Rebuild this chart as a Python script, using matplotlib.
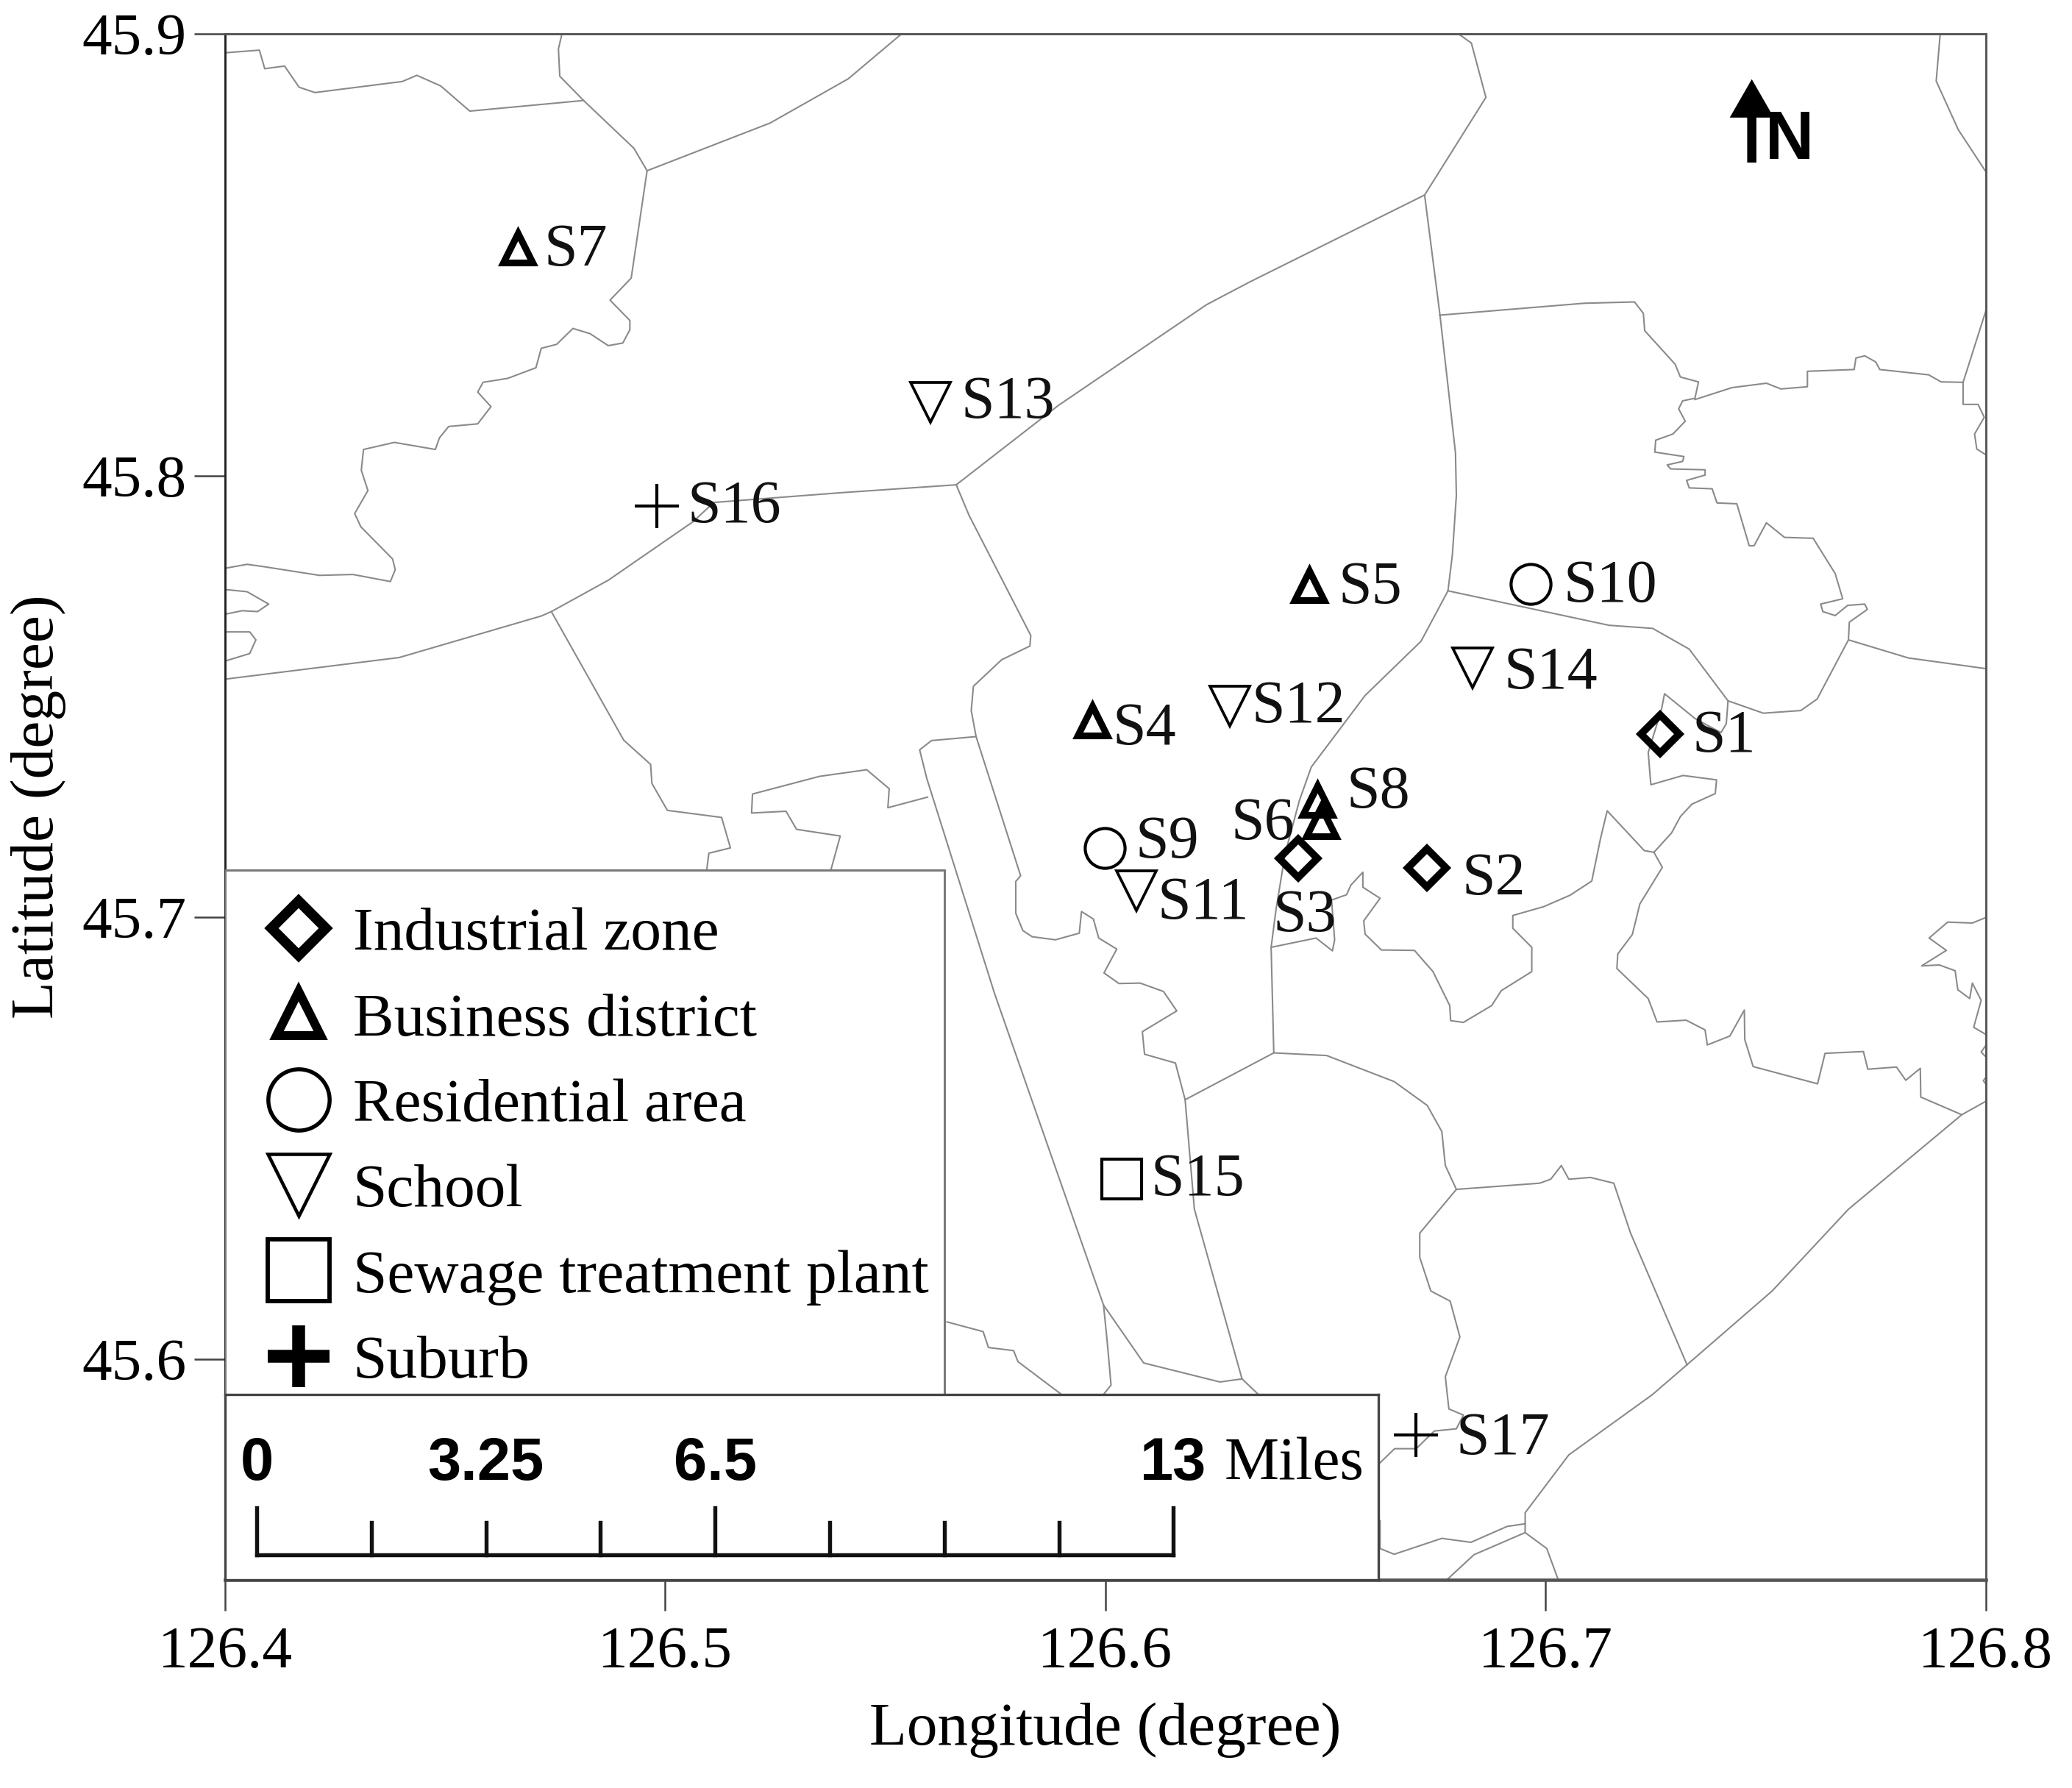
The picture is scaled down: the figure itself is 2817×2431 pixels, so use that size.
from matplotlib import pyplot as plt
from matplotlib.lines import Line2D
from matplotlib.patches import Rectangle

plt.rcParams['font.family'] = ['Liberation Serif', 'DejaVu Serif']

# sampling sites
site_names = ['S1', 'S2', 'S3', 'S4', 'S5', 'S6', 'S7', 'S8', 'S9', 'S10', 'S11', 'S12', 'S13', 'S14', 'S15', 'S16', 'S17']
site_lon = [126.726, 126.673, 126.6439, 126.5971, 126.6463, 126.649, 126.4666, 126.6481, 126.5998,
            126.6967, 126.607, 126.6283, 126.5602, 126.6835, 126.6037, 126.4981, 126.6706]
site_lat = [45.7415, 45.7112, 45.7133, 45.7445, 45.7751, 45.7217, 45.8516, 45.7265, 45.7157,
            45.7754, 45.7061, 45.7478, 45.8165, 45.7565, 45.6407, 45.7931, 45.5828]
site_type = ['Industrial zone', 'Industrial zone', 'Industrial zone', 'Business district', 'Business district',
             'Business district', 'Business district', 'Business district', 'Residential area', 'Residential area',
             'School', 'School', 'School', 'School', 'Sewage treatment plant', 'Suburb', 'Suburb']

# district boundaries, (lon, lat)
line_a = [(126.4, 45.8957), (126.4078, 45.8963), (126.409, 45.8921), (126.4135, 45.8927), (126.4168, 45.8879), (126.4204, 45.8867), (126.4402, 45.8892), (126.4435, 45.8906), (126.4489, 45.8882), (126.4555, 45.8825), (126.4813, 45.8849)]
line_b = [(126.4764, 45.9), (126.4756, 45.8966), (126.4759, 45.8904), (126.4813, 45.8849), (126.4927, 45.8741), (126.4957, 45.869)]
line_c = [(126.4957, 45.869), (126.5236, 45.8798), (126.5413, 45.8898), (126.5533, 45.8999)]
line_d = [(126.4957, 45.869), (126.4921, 45.8447), (126.4873, 45.8397), (126.4918, 45.8351), (126.4918, 45.833), (126.4902, 45.83), (126.4869, 45.8294), (126.4828, 45.8321), (126.4789, 45.8333), (126.4752, 45.8297), (126.4717, 45.8288), (126.4705, 45.8244), (126.4641, 45.822), (126.4585, 45.8211), (126.4573, 45.8189), (126.4603, 45.8156), (126.4573, 45.8117), (126.4507, 45.8111), (126.4486, 45.8085), (126.4477, 45.8059), (126.4384, 45.8075), (126.4314, 45.8059), (126.4309, 45.8012), (126.4324, 45.7966), (126.4294, 45.7914), (126.4308, 45.7884), (126.438, 45.7811), (126.4386, 45.7787), (126.4375, 45.776), (126.429, 45.7776), (126.4214, 45.7774), (126.4086, 45.7794), (126.405, 45.7799), (126.4, 45.779)]
line_e = [(126.4, 45.7742), (126.405, 45.7737), (126.4099, 45.7709), (126.4074, 45.7692), (126.4039, 45.7694), (126.4, 45.7686)]
line_f = [(126.4, 45.7646), (126.4056, 45.7646), (126.407, 45.7628), (126.4056, 45.7597), (126.4, 45.758)]
line_g = [(126.4, 45.7539), (126.4395, 45.7588), (126.4717, 45.7682), (126.474, 45.7692), (126.4869, 45.7763), (126.5062, 45.7896), (126.5108, 45.7939), (126.5395, 45.7961), (126.5658, 45.7979), (126.589, 45.8159), (126.6226, 45.8387), (126.6323, 45.8438), (126.672, 45.8635), (126.6859, 45.8856), (126.6826, 45.8979), (126.6798, 45.8999)]
line_h = [(126.672, 45.8635), (126.6755, 45.8362), (126.6775, 45.8185), (126.679, 45.8051), (126.6792, 45.7955), (126.6783, 45.7821), (126.6773, 45.7739), (126.6712, 45.7625), (126.6585, 45.7502), (126.6463, 45.734), (126.6436, 45.7264), (126.6404, 45.7145), (126.6383, 45.7017), (126.6372, 45.6932), (126.6378, 45.6693)]
line_i = [(126.6754, 45.8363), (126.7082, 45.839), (126.7196, 45.8393), (126.7216, 45.8367), (126.7219, 45.8328), (126.7288, 45.8252), (126.73, 45.8223), (126.7341, 45.8212), (126.7333, 45.8175), (126.7305, 45.8169), (126.7296, 45.8151), (126.7311, 45.8123), (126.7283, 45.8094), (126.7244, 45.808), (126.7242, 45.8053), (126.7308, 45.8043), (126.7305, 45.8032), (126.727, 45.8024), (126.7278, 45.8015), (126.7356, 45.8013), (126.7356, 45.8001), (126.7314, 45.7989), (126.732, 45.7972), (126.7372, 45.797), (126.7383, 45.7938), (126.7428, 45.7936), (126.7456, 45.7841), (126.7467, 45.7841), (126.7495, 45.7893), (126.7536, 45.786), (126.7601, 45.7858), (126.7651, 45.7778), (126.7668, 45.7721), (126.7618, 45.7709), (126.7623, 45.7692), (126.7651, 45.7683), (126.7679, 45.7706), (126.7718, 45.7709), (126.7724, 45.7697), (126.7683, 45.7668), (126.7681, 45.7628)]
line_j = [(126.7333, 45.8172), (126.7417, 45.8199), (126.7495, 45.8209), (126.7528, 45.8196), (126.7588, 45.8201), (126.7588, 45.8236), (126.7694, 45.824), (126.7698, 45.8266), (126.7718, 45.8271), (126.7743, 45.8257), (126.7752, 45.824), (126.7863, 45.8228), (126.7891, 45.8212), (126.7941, 45.8211), (126.7999, 45.8393)]
line_k = [(126.7941, 45.8211), (126.7941, 45.8161), (126.7975, 45.8161), (126.7989, 45.8132), (126.7967, 45.8094), (126.7972, 45.806), (126.7999, 45.8043)]
line_l = [(126.7889, 45.8999), (126.788, 45.8893), (126.793, 45.8783), (126.7999, 45.8678)]
line_o = [(126.6773, 45.7739), (126.7138, 45.7661), (126.7237, 45.7654), (126.732, 45.7607), (126.7408, 45.749), (126.7488, 45.7462), (126.7573, 45.7468), (126.761, 45.7494), (126.7681, 45.7628), (126.7817, 45.7587), (126.7999, 45.7562)]
line_inlet = [(126.7408, 45.749), (126.7404, 45.7438), (126.7392, 45.7418), (126.7333, 45.745), (126.7264, 45.7506), (126.7257, 45.747), (126.7227, 45.7373), (126.7233, 45.73), (126.7306, 45.7321), (126.7382, 45.7311), (126.7379, 45.728), (126.7326, 45.7256), (126.73, 45.7228), (126.728, 45.7191), (126.724, 45.7147), (126.7218, 45.7151), (126.7134, 45.7241), (126.7119, 45.7179), (126.7099, 45.7082), (126.705, 45.705), (126.699, 45.7024), (126.692, 45.7004), (126.692, 45.6975), (126.6963, 45.6932), (126.6963, 45.6877), (126.6894, 45.6834), (126.6872, 45.68), (126.6808, 45.6762), (126.6779, 45.6766), (126.6777, 45.68), (126.6739, 45.6877), (126.6697, 45.6925), (126.6622, 45.6926), (126.6585, 45.6962), (126.6582, 45.6992), (126.6619, 45.7043), (126.658, 45.7068), (126.658, 45.7102), (126.6553, 45.7073), (126.6543, 45.7051), (126.6509, 45.7039), (126.6516, 45.6949), (126.6511, 45.6924), (126.6474, 45.6953), (126.6372, 45.6932)]
line_se = [(126.724, 45.7147), (126.7259, 45.7113), (126.7208, 45.703), (126.7191, 45.6961), (126.7158, 45.6917), (126.7156, 45.6884), (126.7227, 45.6816), (126.7247, 45.6763), (126.7313, 45.6767), (126.7356, 45.6745), (126.7361, 45.6711), (126.7412, 45.6731), (126.7445, 45.679), (126.7446, 45.6723), (126.7465, 45.6662), (126.7611, 45.6623), (126.7628, 45.6692), (126.7715, 45.6696), (126.7725, 45.6656), (126.779, 45.6661), (126.7811, 45.6631), (126.7844, 45.6658), (126.7845, 45.6593), (126.7938, 45.6553)]
line_east = [(126.7999, 45.7002), (126.7962, 45.6987), (126.7906, 45.6989), (126.7864, 45.6953), (126.7903, 45.6925), (126.7847, 45.689), (126.7887, 45.6892), (126.7923, 45.6879), (126.7929, 45.6836), (126.7956, 45.6816), (126.7962, 45.6851), (126.7982, 45.6812), (126.7965, 45.6751), (126.7999, 45.6731)]
line_east2 = [(126.7999, 45.6719), (126.7982, 45.6695), (126.7999, 45.6677)]
line_east3 = [(126.7999, 45.6647), (126.7987, 45.663), (126.7999, 45.6614)]
line_p = [(126.5658, 45.7979), (126.5687, 45.791), (126.5827, 45.7638), (126.5825, 45.7614), (126.5761, 45.7583), (126.5697, 45.7523), (126.5692, 45.7468), (126.5703, 45.7409), (126.5804, 45.7094), (126.5793, 45.7081), (126.5793, 45.7009), (126.5809, 45.697), (126.583, 45.6956), (126.5883, 45.6949), (126.5937, 45.6964), (126.5942, 45.7013), (126.5969, 45.6996), (126.5981, 45.6953), (126.6022, 45.6928), (126.5993, 45.6874), (126.6027, 45.685), (126.6075, 45.6851), (126.6128, 45.6832), (126.6158, 45.6788), (126.608, 45.6741), (126.6085, 45.669), (126.6155, 45.667), (126.6177, 45.6587), (126.6198, 45.6339), (126.6306, 45.5955), (126.6347, 45.5916)]
line_q = [(126.6177, 45.6587), (126.6378, 45.6693), (126.6498, 45.6687), (126.6651, 45.6628), (126.6726, 45.6574), (126.6759, 45.6515), (126.6767, 45.6438), (126.6792, 45.6384)]
line_r = [(126.6792, 45.6384), (126.6981, 45.6398), (126.7006, 45.6407), (126.703, 45.6438), (126.7047, 45.6407), (126.7096, 45.6411), (126.7149, 45.6398), (126.7187, 45.6285), (126.7315, 45.5987)]
line_s = [(126.6792, 45.6384), (126.6709, 45.6285), (126.6709, 45.623), (126.6734, 45.6154), (126.6778, 45.6131), (126.68, 45.605), (126.6767, 45.596), (126.6775, 45.5887), (126.6808, 45.5873), (126.6792, 45.5842), (126.6742, 45.5837), (126.6701, 45.5797), (126.6652, 45.5797), (126.6619, 45.5765)]
line_t = [(126.7999, 45.6587), (126.7938, 45.6553), (126.7681, 45.6339), (126.7508, 45.6154), (126.7315, 45.5987), (126.7236, 45.5919), (126.7047, 45.5783), (126.6948, 45.5652), (126.6948, 45.5607), (126.6832, 45.5557), (126.6767, 45.5497)]
line_t2 = [(126.6948, 45.5607), (126.6997, 45.5571), (126.7026, 45.5492)]
line_u = [(126.6948, 45.5627), (126.6907, 45.5621), (126.6825, 45.5585), (126.6759, 45.5594), (126.6651, 45.5558), (126.6619, 45.5571), (126.6619, 45.5634)]
line_x = [(126.5703, 45.7409), (126.5602, 45.74), (126.5575, 45.7379), (126.5591, 45.7315), (126.5745, 45.6827), (126.5992, 45.6122), (126.6083, 45.5991), (126.6256, 45.5948), (126.6306, 45.5955)]
line_x2 = [(126.5992, 45.6122), (126.6001, 45.6032), (126.6009, 45.5941), (126.5989, 45.5916)]
line_y = [(126.474, 45.7692), (126.4904, 45.7401), (126.4965, 45.7346), (126.4968, 45.7303), (126.5003, 45.7242), (126.5126, 45.7226), (126.5146, 45.7157), (126.5097, 45.7145), (126.5091, 45.7097)]
line_z = [(126.5593, 45.7272), (126.5503, 45.7248), (126.5506, 45.7291), (126.5455, 45.7334), (126.5348, 45.7319), (126.5196, 45.7279), (126.5194, 45.7236), (126.5272, 45.724), (126.5296, 45.7199), (126.5395, 45.7184), (126.5371, 45.7097)]
line_w = [(126.5637, 45.6084), (126.5719, 45.6062), (126.5731, 45.6026), (126.5788, 45.6019), (126.5798, 45.5994), (126.5899, 45.5918)]

boundaries = [line_a, line_b, line_c, line_d, line_e, line_f, line_g, line_h, line_i, line_j, line_k, line_l,
              line_o, line_inlet, line_se, line_east, line_east2, line_east3, line_p, line_q, line_r, line_s,
              line_t, line_t2, line_u, line_x, line_x2, line_y, line_z, line_w]

# scale bar
scale_ticks = [0, 1.625, 3.25, 4.875, 6.5, 8.125, 9.75, 11.375, 13]
scale_long = [0, 6.5, 13]
scale_labels = [0, 3.25, 6.5, 13]

lon_ticks = [126.4, 126.5, 126.6, 126.7, 126.8]
lat_ticks = [45.6, 45.7, 45.8, 45.9]

# site type -> marker, size, edge width on the map, size in legend, edge in legend
styles = {
    'Industrial zone': ('D', 8.8, 2.4, 12.5, 3.3),
    'Business district': ('^', 9.5, 2.2, 14.5, 2.9),
    'Residential area': ('o', 13.0, 1.0, 20.0, 1.3),
    'School': ('v', 13.0, 0.9, 20.0, 1.1),
    'Sewage treatment plant': ('s', 13.0, 1.0, 20.0, 1.4),
    'Suburb': ('+', 14.5, 1.0, 20.0, 4.2),
}

# label offset from the marker, points
label_offset = [(10.5, -1), (11.5, -4), (-8.5, -19), (6.5, -3), (9.5, -1), (-29.5, -1), (8.5, -1), (9.5, 2.5), (10, 1.5),
                (10.5, -1), (7, -4.5), (7, -0.5), (10, -0.3), (10, -2), (9.5, -0.5), (10, -0.5), (13, -1.5)]

fig = plt.figure(figsize=(2817 / 300, 2431 / 300), dpi=300)
ax = fig.add_axes([0.1086, 0.1164, 0.8497, 0.8647])

for line in boundaries:
    # the boundaries were read a touch short in longitude, 0.2% stretch from the left edge
    xs = [126.4 + (p[0] - 126.4) * 1.002 for p in line]
    ys = [p[1] for p in line]
    ax.plot(xs, ys, color='#8a8a8a', lw=0.5, zorder=1)

for i, name in enumerate(site_names):
    m, ms, mew, _, _ = styles[site_type[i]]
    ax.plot(site_lon[i], site_lat[i], m, ms=ms, mew=mew, mfc='none', mec='black', zorder=3)
    ax.annotate(name, (site_lon[i], site_lat[i]), xytext=label_offset[i], textcoords='offset points',
                ha='left', va='center', fontsize=19.7, color='#111111', zorder=4)

ax.set_xlim(126.4, 126.8)
ax.set_ylim(45.55, 45.9)
ax.set_xticks(lon_ticks)
ax.set_xticklabels(['%.1f' % v for v in lon_ticks])
ax.set_yticks(lat_ticks)
ax.set_yticklabels(['%.1f' % v for v in lat_ticks])
ax.tick_params(axis='both', length=10, width=0.6, color='#444444', labelsize=19.5)
ax.tick_params(axis='x', pad=5)
ax.tick_params(axis='y', pad=2.5)
ax.set_xlabel('Longitude (degree)', fontsize=20, labelpad=7.5)
ax.set_ylabel('Latitude (degree)', fontsize=20, labelpad=5.2)
for side in ax.spines:
    ax.spines[side].set_linewidth(0.7)
    ax.spines[side].set_color('#555555')
ax.spines['left'].set_color('#222222')
ax.spines['bottom'].set_linewidth(1.1)

# legend frame runs on under the scale bar box
ax.add_patch(Rectangle((0, 0.11), 0.4088, 0.3492, transform=ax.transAxes, fc='white', ec='#777777', lw=0.7, zorder=4.5))
handles = []
for key in styles:
    m, _, _, ms, mew = styles[key]
    handles.append(Line2D([], [], ls='none', marker=m, ms=ms, mew=mew, mfc='none', mec='black', label=key))
leg = ax.legend(handles=handles, loc='upper left', bbox_to_anchor=(0.0218, 0.4353), borderaxespad=0,
                fontsize=20, frameon=False, labelspacing=0.48, handletextpad=0.3, handlelength=1.16, borderpad=0)
leg.set_zorder(5)

# scale bar box
sb = ax.inset_axes([0, 0, 0.655, 0.1197], zorder=6)
sb.set_xlim(-0.4496, 15.903)
sb.set_ylim(0, 1)
sb.set_xticks([])
sb.set_yticks([])
for side in sb.spines:
    sb.spines[side].set_linewidth(0.8)
    sb.spines[side].set_color('#444444')
sb.plot([scale_ticks[0], scale_ticks[-1]], [0.135, 0.135], color='#111111', lw=1.3, solid_capstyle='projecting')
for v in scale_ticks:
    top = 0.39 if v in scale_long else 0.31
    sb.plot([v, v], [0.135, top], color='#111111', lw=1.3)
for v in scale_labels:
    sb.text(v, 0.625, '%g' % v, ha='center', va='center', fontsize=19.5, fontweight='bold', family='Liberation Sans')
sb.text(13.72, 0.625, 'Miles', ha='left', va='center', fontsize=20)

# north arrow
ax.annotate('', xy=(0.8672, 0.9706), xytext=(0.8672, 0.9167), xycoords='axes fraction',
            arrowprops=dict(arrowstyle='-|>,head_width=4.6,head_length=8', lw=3.0, color='black',
                            shrinkA=0, shrinkB=0, mutation_scale=1, capstyle='butt', joinstyle='miter'))
ax.text(0.8885, 0.9305, 'N', transform=ax.transAxes, ha='center', va='center', fontsize=22,
        fontweight='bold', family='Liberation Sans')

plt.savefig('out.png', dpi=300)
